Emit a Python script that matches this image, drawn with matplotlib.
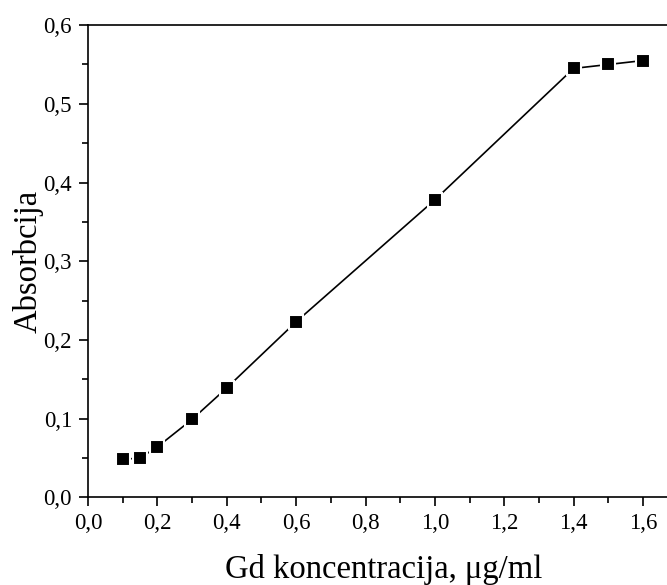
import matplotlib
matplotlib.use("Agg")
import matplotlib.pyplot as plt
from matplotlib.ticker import MultipleLocator, FuncFormatter

concentration = [0.1, 0.15, 0.2, 0.3, 0.4, 0.6, 1.0, 1.4, 1.5, 1.6]
absorbance = [0.048, 0.050, 0.064, 0.099, 0.139, 0.223, 0.378, 0.545, 0.550, 0.555]

plt.rcParams['font.family'] = ['Liberation Serif', 'DejaVu Serif']

fig = plt.figure(figsize=(6.67, 5.85), dpi=100)
ax = fig.add_axes([0.132, 0.150, 0.885, 0.807])

ax.plot(concentration, absorbance, color='black', lw=1.2, marker='s',
        markersize=9.5, markerfacecolor='black', markeredgecolor='white',
        markeredgewidth=1.5)

ax.set_xlim(0, 1.702)
ax.set_ylim(0, 0.6)
ax.xaxis.set_major_locator(MultipleLocator(0.2))
ax.xaxis.set_minor_locator(MultipleLocator(0.1))
ax.yaxis.set_major_locator(MultipleLocator(0.1))
ax.yaxis.set_minor_locator(MultipleLocator(0.05))

comma = FuncFormatter(lambda v, p: f"{v:.1f}".replace('.', ','))
ax.xaxis.set_major_formatter(comma)
ax.yaxis.set_major_formatter(comma)

ax.tick_params(which='both', direction='out', width=1.2, labelsize=16.5,
               top=False, right=False)
ax.tick_params(which='major', length=6.5, pad=5)
ax.tick_params(which='minor', length=4)
for s in ax.spines.values():
    s.set_linewidth(1.2)

ax.set_xlabel('Gd koncentracija, μg/ml', fontsize=23.5, labelpad=14)
ax.set_ylabel('Absorbcija', fontsize=23.5, labelpad=0)

fig.savefig('out.png', dpi=100)
